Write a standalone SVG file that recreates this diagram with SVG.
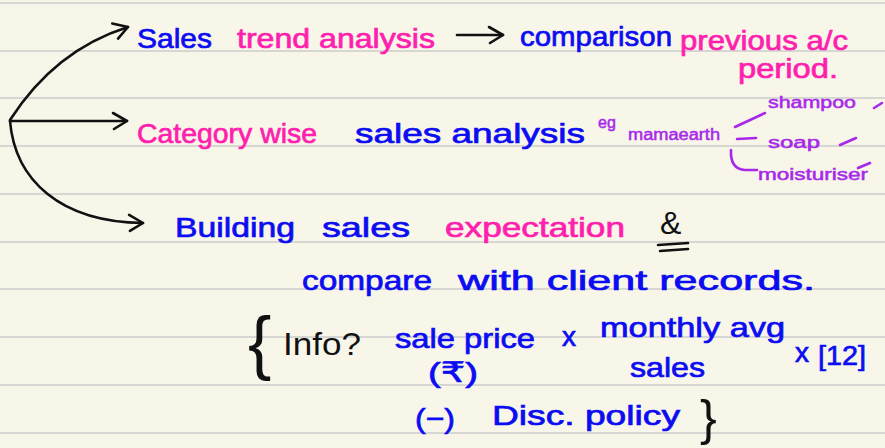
<svg xmlns="http://www.w3.org/2000/svg" width="885" height="448" viewBox="0 0 885 448">
<style>
text{font-family:"Liberation Sans","DejaVu Sans",sans-serif;}
.b{fill:#0c0cf2;stroke:#0c0cf2;stroke-width:0.7;font-size:28px;}
.p{fill:#ff1fae;stroke:#ff1fae;stroke-width:0.7;font-size:28px;}
.v{fill:#a828ea;stroke:#a828ea;stroke-width:0.5;font-size:16px;}
.k{fill:#111;}
.rule{stroke:#d6d6d2;stroke-width:2;}
.con{fill:none;stroke:#111;stroke-width:2.6;stroke-linecap:round;}
.vl{fill:none;stroke:#a828ea;stroke-width:2.6;stroke-linecap:round;}
</style>
<defs>
<marker id="ah" viewBox="0 0 20 20" refX="17" refY="10" markerWidth="20" markerHeight="20" markerUnits="userSpaceOnUse" orient="auto">
<path d="M3,2 L17,10 L4,18" fill="none" stroke="#111" stroke-width="2.6" stroke-linecap="round" stroke-linejoin="round"/>
</marker>
</defs>
<rect width="885" height="448" fill="#f8f6e9"/>
<g id="paper-lines">
<line class="rule" x1="0" y1="3" x2="885" y2="3"/>
<line class="rule" x1="0" y1="51" x2="885" y2="51"/>
<line class="rule" x1="0" y1="98" x2="885" y2="98"/>
<line class="rule" x1="0" y1="146" x2="885" y2="146"/>
<line class="rule" x1="0" y1="194" x2="885" y2="194"/>
<line class="rule" x1="0" y1="242" x2="885" y2="242"/>
<line class="rule" x1="0" y1="289" x2="885" y2="289"/>
<line class="rule" x1="0" y1="337" x2="885" y2="337"/>
<line class="rule" x1="0" y1="385" x2="885" y2="385"/>
<line class="rule" x1="0" y1="433" x2="885" y2="433"/>
</g>
<g id="connectors">
<path class="con" d="M10,120 Q55,50 128,27" marker-end="url(#ah)"/>
<path class="con" d="M10,121 L127,121" marker-end="url(#ah)"/>
<path class="con" d="M10,121 C15,180 60,222 143,223" marker-end="url(#ah)"/>
<path class="con" d="M457,35 L503,35" marker-end="url(#ah)"/>
<path class="vl" d="M735,127 L765,113"/>
<path class="vl" d="M737,139 L756,138"/>
<path class="vl" d="M731,150 Q730,169 745,170 L757,170"/>
</g>
<g id="n-sales-trend">
<text class="b" x="137" y="48" font-size="34" textLength="75" lengthAdjust="spacingAndGlyphs">Sales</text>
<text class="p" x="237" y="48" textLength="198" lengthAdjust="spacingAndGlyphs">trend analysis</text>
</g>
<g id="n-comparison">
<text class="b" x="520" y="46" textLength="152" lengthAdjust="spacingAndGlyphs">comparison</text>
<text class="p" x="680" y="50" textLength="168" lengthAdjust="spacingAndGlyphs">previous a/c</text>
<text class="p" x="738" y="78" font-size="26" textLength="100" lengthAdjust="spacingAndGlyphs">period.</text>
</g>
<g id="n-category">
<text class="p" x="137" y="143" textLength="180" lengthAdjust="spacingAndGlyphs">Category wise</text>
<text class="b" x="355" y="143" textLength="230" lengthAdjust="spacingAndGlyphs">sales analysis</text>
</g>
<g id="n-examples">
<text class="v" x="598" y="128" font-size="14">eg</text>
<text class="v" x="628" y="140" textLength="92" lengthAdjust="spacingAndGlyphs">mamaearth</text>
<text class="v" x="768" y="108" textLength="88" lengthAdjust="spacingAndGlyphs">shampoo</text>
<text class="v" x="768" y="148" font-size="20" textLength="52" lengthAdjust="spacingAndGlyphs">soap</text>
<text class="v" x="758" y="180" font-size="17" textLength="110" lengthAdjust="spacingAndGlyphs">moisturiser</text>
<path class="vl" d="M874,108 L882,103 M840,145 L856,138 M858,168 L870,163"/>
</g>
<g id="n-building">
<text class="b" x="175" y="237" font-size="30" textLength="120" lengthAdjust="spacingAndGlyphs">Building</text>
<text class="b" x="322" y="237" font-size="30" textLength="88" lengthAdjust="spacingAndGlyphs">sales</text>
<text class="p" x="445" y="237" textLength="180" lengthAdjust="spacingAndGlyphs">expectation</text>
<text class="k" x="660" y="234" font-size="32">&amp;</text>
<path class="con" d="M658,245 L688,243 M660,251 L688,249"/>
<text class="b" x="302" y="290" textLength="130" lengthAdjust="spacingAndGlyphs">compare</text>
<text class="b" x="458" y="290" textLength="357" lengthAdjust="spacingAndGlyphs">with client records.</text>
</g>
<g id="n-info">
<text class="k" x="248" y="366" font-size="70">{</text>
<text class="k" x="283" y="355" font-size="32" textLength="78" lengthAdjust="spacingAndGlyphs">Info?</text>
<text class="b" x="395" y="348" textLength="140" lengthAdjust="spacingAndGlyphs">sale price</text>
<text class="b" x="428" y="382" font-size="20" textLength="50" lengthAdjust="spacingAndGlyphs">(₹)</text>
<text class="b" x="562" y="346" font-size="24">x</text>
<text class="b" x="600" y="337" textLength="185" lengthAdjust="spacingAndGlyphs">monthly avg</text>
<text class="b" x="630" y="377" textLength="75" lengthAdjust="spacingAndGlyphs">sales</text>
<text class="b" x="795" y="362" font-size="24">x</text>
<text class="b" x="818" y="365" font-size="36" textLength="48" lengthAdjust="spacingAndGlyphs">[12]</text>
<text class="b" x="415" y="428" font-size="22" textLength="40" lengthAdjust="spacingAndGlyphs">(−)</text>
<text class="b" x="492" y="425" font-size="30" textLength="188" lengthAdjust="spacingAndGlyphs">Disc. policy</text>
<text class="k" x="700" y="435" font-size="50">}</text>
</g>
</svg>
